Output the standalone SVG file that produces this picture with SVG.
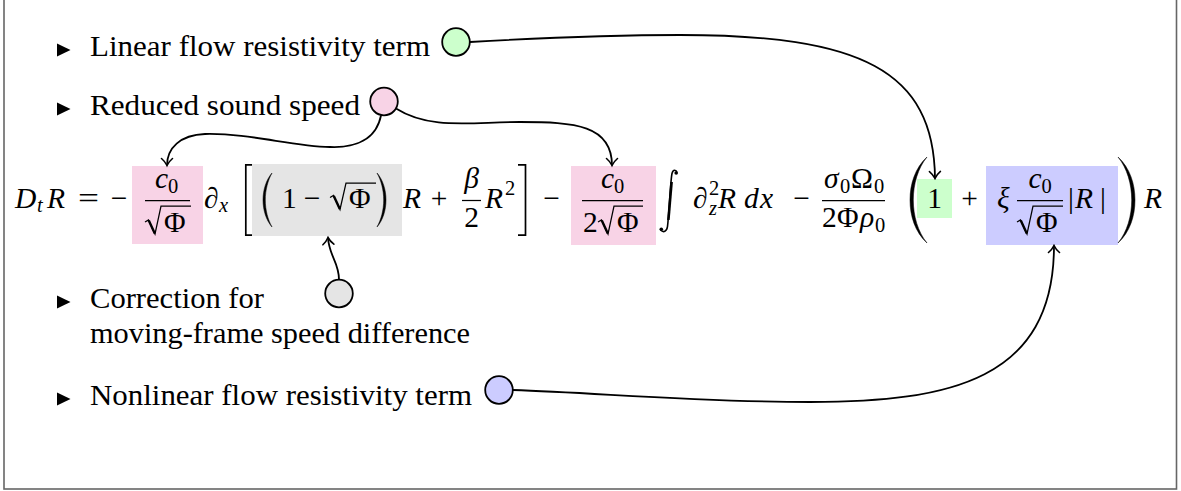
<svg xmlns="http://www.w3.org/2000/svg" width="1181" height="491" viewBox="0 0 1181 491">
<defs>
<style>
.bar{stroke:#000;stroke-width:1.25}
.rad{fill:none;stroke:#000;stroke-width:1.25;stroke-linejoin:miter}
.radt{stroke:#000;stroke-width:2.4}
.dl{fill:#000;stroke:#000;stroke-width:0.5}
.br{fill:none;stroke:#000;stroke-width:1.7}
.pink{fill:#f8d3e6}
.gray{fill:#e5e5e5}
.green{fill:#ccffcc}
.blue{fill:#ccccff}
.conn{fill:none;stroke:#000;stroke-width:1.8;marker-end:url(#tip)}
.bul{fill:#000}
.node{stroke:#000;stroke-width:1.8}
</style>
<marker id="tip" viewBox="-10 -8 12 16" refX="0" refY="0" markerWidth="12" markerHeight="16" markerUnits="userSpaceOnUse" orient="auto">
<path d="M -7,-5.5 C -4.5,-2.5 -1.5,-0.7 0,0 C -1.5,0.7 -4.5,2.5 -7,5.5" fill="none" stroke="#000" stroke-width="1.6" stroke-linecap="round"/>
</marker>
</defs>
<rect x="0" y="0" width="1181" height="491" fill="#fff"/>
<rect x="4" y="-10" width="1172.5" height="499" fill="none" stroke="#666" stroke-width="1.6"/>

<g id="item-linear">
<polygon class="bul" points="57,43.5 70.5,50 57,56.5"/>
<text font-family="Liberation Serif, serif" font-size="29.5" x="90" y="56" textLength="340" lengthAdjust="spacingAndGlyphs">Linear flow resistivity term</text>
<circle class="node green" cx="456" cy="42" r="13.8"/>
</g>
<g id="item-speed">
<polygon class="bul" points="57,102.5 70.5,109 57,115.5"/>
<text font-family="Liberation Serif, serif" font-size="29.5" x="90" y="115" textLength="270" lengthAdjust="spacingAndGlyphs">Reduced sound speed</text>
<circle class="node pink" cx="384" cy="101.5" r="13.8"/>
</g>
<g id="item-correction">
<polygon class="bul" points="57,295.5 70.5,302 57,308.5"/>
<text font-family="Liberation Serif, serif" font-size="29.5" x="90" y="308" textLength="174" lengthAdjust="spacingAndGlyphs">Correction for</text>
<text font-family="Liberation Serif, serif" font-size="29.5" x="90" y="343" textLength="380" lengthAdjust="spacingAndGlyphs">moving-frame speed difference</text>
<circle class="node gray" cx="339" cy="293.5" r="13.8"/>
</g>
<g id="item-nonlinear">
<polygon class="bul" points="57,392.5 70.5,399 57,405.5"/>
<text font-family="Liberation Serif, serif" font-size="29.5" x="90" y="405" textLength="382" lengthAdjust="spacingAndGlyphs">Nonlinear flow resistivity term</text>
<circle class="node blue" cx="499" cy="390" r="13.8"/>
</g>

<g id="equation">
<text font-family="Liberation Serif, serif" font-size="29.5" font-style="italic" x="15" y="207.5">D</text>
<text font-family="Liberation Serif, serif" font-size="20.5" font-style="italic" x="37" y="212">t</text>
<text font-family="Liberation Serif, serif" font-size="29.5" font-style="italic" x="47" y="207.5">R</text>
<text font-family="Liberation Serif, serif" font-size="29.5" x="78" y="207.5" textLength="21" lengthAdjust="spacingAndGlyphs">=</text>
<text font-family="Liberation Serif, serif" font-size="29.5" text-anchor="middle" x="119" y="207.5">−</text>

<g id="term-speed-1">
<rect class="pink" x="132" y="166" width="71" height="78"/>
<text font-family="Liberation Serif, serif" font-size="29.5" font-style="italic" x="155" y="188">c</text>
<text font-family="Liberation Serif, serif" font-size="20.5" x="168" y="192.5">0</text>
<line class="bar" x1="145" y1="200.5" x2="190" y2="200.5"/>
<path class="rad" d="M145,222 L148.5,220 L155,234 L161,206 H191"/>
<line class="radt" x1="148.8" y1="220.5" x2="154.8" y2="233.5"/>
<text font-family="Liberation Serif, serif" font-size="29.5" x="164" y="232">Φ</text>
</g>

<text font-family="Liberation Serif, serif" font-size="29.5" font-style="italic" x="204" y="207.5">∂</text>
<text font-family="Liberation Serif, serif" font-size="20.5" font-style="italic" x="219" y="212">x</text>
<path class="br" d="M252,164.8 H245.8 V235.2 H252"/>

<g id="term-correction">
<rect class="gray" x="252" y="164" width="150" height="72"/>
<path class="dl" d="M272,173 C266,180 263,190 263,200 C263,210 266,220 272,227 C268,220 265.3,210 265.3,200 C265.3,190 268,180 272,173 Z"/>
<text font-family="Liberation Serif, serif" font-size="29.5" x="282" y="207.5">1</text>
<text font-family="Liberation Serif, serif" font-size="29.5" text-anchor="middle" x="312" y="207.5">−</text>
<path class="rad" d="M330,197.5 L333.5,195.5 L340,209.5 L346,183 H376"/>
<line class="radt" x1="333.8" y1="196" x2="339.8" y2="209"/>
<text font-family="Liberation Serif, serif" font-size="29.5" x="349" y="207.5">Φ</text>
<path class="dl" d="M377,173 C383,180 386,190 386,200 C386,210 383,220 377,227 C381,220 383.7,210 383.7,200 C383.7,190 381,180 377,173 Z"/>
</g>

<text font-family="Liberation Serif, serif" font-size="29.5" font-style="italic" x="403" y="207.5">R</text>
<text font-family="Liberation Serif, serif" font-size="29.5" text-anchor="middle" x="439" y="207.5">+</text>
<text font-family="Liberation Serif, serif" font-size="29.5" font-style="italic" text-anchor="middle" x="471.5" y="188">β</text>
<line class="bar" x1="462" y1="200.5" x2="481" y2="200.5"/>
<text font-family="Liberation Serif, serif" font-size="29.5" text-anchor="middle" x="471.5" y="227">2</text>
<text font-family="Liberation Serif, serif" font-size="29.5" font-style="italic" x="485" y="207.5">R</text>
<text font-family="Liberation Serif, serif" font-size="20.5" x="505" y="195">2</text>
<path class="br" d="M518,164.8 H525.5 V235.2 H518"/>
<text font-family="Liberation Serif, serif" font-size="29.5" text-anchor="middle" x="551.5" y="207.5">−</text>

<g id="term-speed-2">
<rect class="pink" x="571" y="166" width="85" height="79"/>
<text font-family="Liberation Serif, serif" font-size="29.5" font-style="italic" x="601" y="188">c</text>
<text font-family="Liberation Serif, serif" font-size="20.5" x="614" y="192.5">0</text>
<line class="bar" x1="582" y1="200.5" x2="643" y2="200.5"/>
<text font-family="Liberation Serif, serif" font-size="29.5" x="583" y="232">2</text>
<path class="rad" d="M598,222 L601.5,220 L608,234 L614,206 H643"/>
<line class="radt" x1="601.8" y1="220.5" x2="607.8" y2="233.5"/>
<text font-family="Liberation Serif, serif" font-size="29.5" x="617" y="232">Φ</text>
</g>

<path d="M677,172.5 C676.2,169.5 673,169 672,173.5 C670.5,180 669,215 667.5,226.5 C666.8,231.5 663.5,233 660.5,230" fill="none" stroke="#000" stroke-width="1.6"/>
<line x1="671.6" y1="182" x2="668.4" y2="220" stroke="#000" stroke-width="2.6"/>
<circle cx="676.2" cy="173" r="1.8"/>
<circle cx="661.3" cy="229.2" r="1.8"/>
<text font-family="Liberation Serif, serif" font-size="29.5" font-style="italic" x="693" y="207.5">∂</text>
<text font-family="Liberation Serif, serif" font-size="20.5" x="709" y="195">2</text>
<text font-family="Liberation Serif, serif" font-size="20.5" font-style="italic" x="709" y="215">z</text>
<text font-family="Liberation Serif, serif" font-size="29.5" font-style="italic" x="718" y="207.5">R</text>
<text font-family="Liberation Serif, serif" font-size="29.5" font-style="italic" x="744" y="207.5">d</text>
<text font-family="Liberation Serif, serif" font-size="29.5" font-style="italic" x="760" y="207.5">x</text>
<text font-family="Liberation Serif, serif" font-size="29.5" text-anchor="middle" x="801.5" y="207.5">−</text>

<text font-family="Liberation Serif, serif" font-size="29.5" font-style="italic" x="824" y="188">σ</text>
<text font-family="Liberation Serif, serif" font-size="20.5" x="840" y="192.5">0</text>
<text font-family="Liberation Serif, serif" font-size="29.5" x="851" y="188">Ω</text>
<text font-family="Liberation Serif, serif" font-size="20.5" x="874" y="192.5">0</text>
<line class="bar" x1="822" y1="200.5" x2="885" y2="200.5"/>
<text font-family="Liberation Serif, serif" font-size="29.5" x="822" y="227">2</text>
<text font-family="Liberation Serif, serif" font-size="29.5" x="837" y="227">Φ</text>
<text font-family="Liberation Serif, serif" font-size="29.5" font-style="italic" x="860" y="227">ρ</text>
<text font-family="Liberation Serif, serif" font-size="20.5" x="875" y="231.5">0</text>

<path class="dl" d="M927,157 C915,168 910,184 910,200 C910,216 915,232 927,243 C918,232 913.3,216 913.3,200 C913.3,184 918,168 927,157 Z"/>

<g id="term-linear">
<rect class="green" x="917" y="179" width="35" height="39"/>
<text font-family="Liberation Serif, serif" font-size="29.5" text-anchor="middle" x="934.5" y="207.5">1</text>
</g>
<text font-family="Liberation Serif, serif" font-size="29.5" text-anchor="middle" x="969.5" y="207.5">+</text>

<g id="term-nonlinear">
<rect class="blue" x="986" y="166" width="132" height="79"/>
<text font-family="Liberation Serif, serif" font-size="29.5" font-style="italic" x="997" y="207.5">ξ</text>
<text font-family="Liberation Serif, serif" font-size="29.5" font-style="italic" x="1028.5" y="188">c</text>
<text font-family="Liberation Serif, serif" font-size="20.5" x="1041.5" y="192.5">0</text>
<line class="bar" x1="1017" y1="200.5" x2="1063" y2="200.5"/>
<path class="rad" d="M1017,222 L1020.5,220 L1027,234 L1033,206 H1063"/>
<line class="radt" x1="1020.8" y1="220.5" x2="1026.8" y2="233.5"/>
<text font-family="Liberation Serif, serif" font-size="29.5" x="1036" y="232">Φ</text>
<text font-family="Liberation Serif, serif" font-size="29.5" x="1068" y="207.5">|</text>
<text font-family="Liberation Serif, serif" font-size="29.5" font-style="italic" x="1075" y="207.5">R</text>
<text font-family="Liberation Serif, serif" font-size="29.5" x="1100" y="207.5">|</text>
</g>

<path class="dl" d="M1118,157 C1130,168 1135,184 1135,200 C1135,216 1130,232 1118,243 C1127,232 1131.7,216 1131.7,200 C1131.7,184 1127,168 1118,157 Z"/>
<text font-family="Liberation Serif, serif" font-size="29.5" font-style="italic" x="1144" y="207.5">R</text>
</g>

<g id="connectors">
<path class="conn" d="M470,42 C540,38 600,35 680,35 C860,35 934,70 935,178.5"/>
<path class="conn" d="M381,115.5 C376,140 355,148 330,147 C290,146 250,133 205,134 C180,135 167,148 167,165.5"/>
<path class="conn" d="M396,108.5 C430,130 470,122 520,122 C575,122 612,125 612,165.5"/>
<path class="conn" d="M339,279.5 C339,262 329,256 328,237.5"/>
<path class="conn" d="M513,390 C600,393 700,402 810,402 C950,402 1054,380 1054,245.5"/>
</g>
</svg>
